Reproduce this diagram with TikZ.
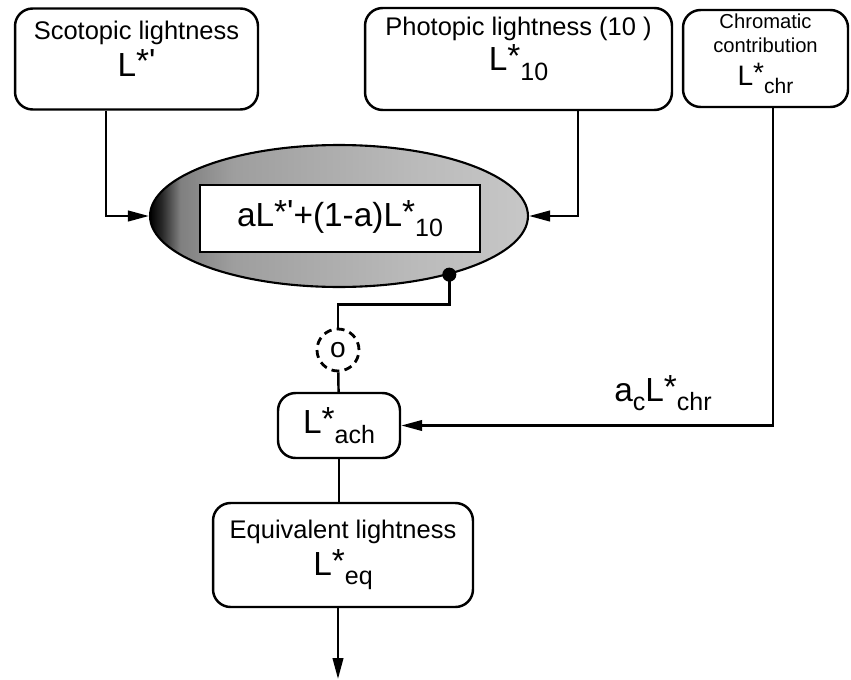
\documentclass[tikz,border=0pt]{standalone}
\usepackage{fontspec}
\setmainfont{Liberation Sans}
\usepackage{graphicx}
\usetikzlibrary{arrows.meta, positioning, shapes.geometric}

\newcommand{\Lsub}[1]{L\raisebox{0.1em}{*}\raisebox{-0.28em}{\scalebox{0.75}{#1}}}
\newcommand{\Lprime}{L\raisebox{0.1em}{*\textquotesingle}}
\pgfdeclarehorizontalshading{lensshade}{100bp}{color(0bp)=(black); color(25bp)=(black); color(26.5bp)=(black!85); color(29bp)=(black!50); color(36bp)=(black!38); color(60bp)=(black!27); color(75bp)=(black!22); color(100bp)=(black!22)}

\begin{document}
\begin{tikzpicture}[
    x=0.02cm, y=-0.02cm,
    lbox/.style={rectangle, draw, line width=1.4pt, rounded corners=10pt, align=center, inner sep=0pt, font=\fontsize{14.5}{18}\selectfont},
    big/.style={font=\fontsize{19}{22}\selectfont},
    wire/.style={line width=1.4pt},
    arrow/.style={wire, -{Triangle[length=4.2mm, width=2.1mm]}},
    dot/.style={circle, fill, inner sep=0pt, minimum size=8pt}
]
\useasboundingbox (0,0) rectangle (851,679);

% inputs
\node[lbox, minimum width=4.86cm, minimum height=2.02cm, text depth=12pt] (scot) at (136.5,59)
  {Scotopic lightness\\[3pt]{\fontsize{19}{22}\selectfont\Lprime}};
\node[lbox, minimum width=6.14cm, minimum height=2.04cm, text depth=17pt] (photo) at (518.5,59)
  {Photopic lightness (10 )\\[2pt]{\fontsize{19}{22}\selectfont\Lsub{10}}};
\node[lbox, minimum width=3.3cm, minimum height=1.94cm, text depth=10pt, font=\fontsize{11.5}{13.5}\selectfont] (chrom) at (765.5,58.5)
  {Chromatic\\contribution\\[5pt]{\fontsize{16}{17}\selectfont\Lsub{chr}}};

% mixing
\node[ellipse, draw, line width=1.2pt, shading=lensshade, minimum width=7.56cm, minimum height=2.84cm, inner sep=0pt] (ell) at (339,216) {};
\node[rectangle, draw, fill=white, line width=1.2pt, minimum width=5.6cm, minimum height=1.34cm, big] (mix) at (340,218.5)
  {aL\raisebox{0.1em}{*\textquotesingle}+(1-a)\Lsub{10}};
\node[dot] (tap) at (ell.-28) {};

% lower chain
\node[circle, draw, line width=1.6pt, dash pattern=on 4.5pt off 3pt, minimum size=0.84cm, inner sep=0pt, font=\fontsize{16}{18}\selectfont] (mult) at (338,350) {o};
\node[lbox, minimum width=2.44cm, minimum height=1.3cm, big] (ach) at (339,425.5) {\Lsub{ach}};
\node[lbox, minimum width=5.2cm, minimum height=2.08cm] (eq) at (343,555)
  {Equivalent lightness\\[3pt]{\fontsize{19}{22}\selectfont\Lsub{eq}}};
\node[big] (gain) at (663,393) {a\raisebox{-0.28em}{\scalebox{0.75}{c}}\Lsub{chr}};
\coordinate (out) at (338,679);

\draw[arrow] ([xshift=-0.61cm]scot.south) |- (ell.west);
\draw[arrow] ([xshift=1.19cm]photo.south) |- (ell.east);
\draw[arrow] ([xshift=0.15cm]chrom.south) |- (ach.east);
\draw[wire] (tap.center) -- ++(0,30) -| (mult.north);
\draw[wire] (mult) -- (ach);
\draw[wire] (ach.south) -- (ach.south |- eq.north);
\draw[arrow] (eq.south -| out) -- (out);
\end{tikzpicture}
\end{document}
